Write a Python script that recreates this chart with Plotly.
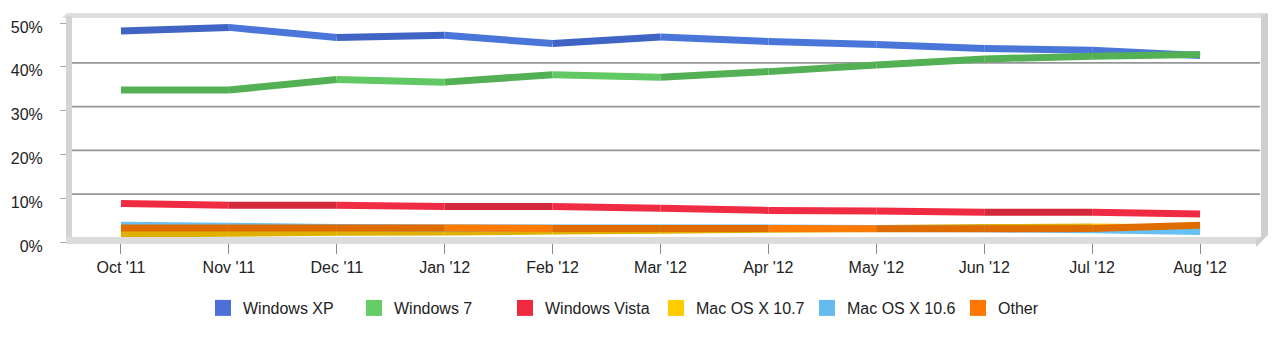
import plotly.graph_objects as go

months = ["Oct '11", "Nov '11", "Dec '11", "Jan '12", "Feb '12", "Mar '12",
          "Apr '12", "May '12", "Jun '12", "Jul '12", "Aug '12"]

windows_xp = [48.2, 49.0, 46.7, 47.2, 45.3, 46.8, 45.8, 45.1, 44.2, 43.8, 42.6]
windows_7 = [34.7, 34.7, 37.1, 36.5, 38.2, 37.6, 38.9, 40.4, 41.8, 42.4, 42.8]
windows_vista = [8.8, 8.4, 8.4, 8.1, 8.1, 7.7, 7.2, 7.1, 6.8, 6.8, 6.4]
mac_10_7 = [1.8, 2.0, 2.2, 2.3, 2.5, 2.7, 2.9, 3.1, 3.3, 3.4, 3.2]
mac_10_6 = [3.8, 3.6, 3.3, 3.2, 3.2, 3.2, 3.2, 3.1, 3.0, 2.8, 2.4]
other = [3.2, 3.2, 3.2, 3.2, 3.1, 3.1, 3.1, 3.0, 3.0, 3.1, 3.8]

series_names = ["Windows XP", "Windows 7", "Windows Vista", "Mac OS X 10.7", "Mac OS X 10.6", "Other"]
series_values = [windows_xp, windows_7, windows_vista, mac_10_7, mac_10_6, other]
legend_colors = ["#4c70d8", "#66cc66", "#ee2a40", "#ffcc00", "#66bbee", "#ff7700"]
light_colors = ["#4a76da", "#62c864", "#f02c44", "#ffc800", "#66c0f4", "#ff7a00"]
dark_colors = ["#4064c4", "#54b054", "#d22a3c", "#e0b000", "#58a8d8", "#e06c00"]

y_ticks = [0, 10, 20, 30, 40, 50]
y_tick_labels = ["0%", "10%", "20%", "30%", "40%", "50%"]
grid_vals = [10, 20, 30, 40]

W, H = 1280, 353
ML, MR, MT, MB = 67, 26, 23, 111
PW = W - ML - MR
PH = H - MT - MB


def px(x):
    return (x - ML) / PW


def py(y):
    return (H - MB - y) / PH


fig = go.Figure()

for name, vals, lc, dc in zip(series_names, series_values, light_colors, dark_colors):
    for i in range(len(months) - 1):
        col = dc if vals[i + 1] >= vals[i] else lc
        fig.add_trace(go.Scatter(
            x=[months[i], months[i + 1]], y=[vals[i], vals[i + 1]],
            mode="lines", line=dict(color=col, width=7),
            showlegend=False, hoverinfo="skip"))

for name, c in zip(series_names, legend_colors):
    fig.add_trace(go.Scatter(
        x=[None], y=[None], mode="markers", name=name,
        marker=dict(symbol="square", size=16, color=c)))

shapes = []
# back-wall grid lines (offset up for 3D look)
for g in grid_vals:
    shapes.append(dict(type="line", xref="paper", yref="y", ysizemode="pixel",
                       yanchor=g, y0=4, y1=4, x0=px(72), x1=px(1260),
                       line=dict(color="#969696", width=1.8), layer="below"))

frame_col = "#dcdcdc"
# top strip
shapes.append(dict(type="path", xref="paper", yref="paper",
                   path=f"M {px(62)} {py(18)} L {px(67)} {py(13)} L {px(1268)} {py(13)} L {px(1262)} {py(18)} Z",
                   fillcolor="#dedede", line=dict(width=0), layer="above"))
# left strip
shapes.append(dict(type="rect", xref="paper", yref="paper",
                   x0=px(66), x1=px(72), y0=py(244), y1=py(16),
                   fillcolor="#d4d4d4", line=dict(width=0), layer="above"))
# floor
shapes.append(dict(type="path", xref="paper", yref="paper",
                   path=f"M {px(66)} {py(237)} L {px(1262)} {py(237)} L {px(1256)} {py(244)} L {px(66)} {py(244)} Z",
                   fillcolor=frame_col, line=dict(width=0), layer="above"))
# right strip
shapes.append(dict(type="path", xref="paper", yref="paper",
                   path=f"M {px(1261)} {py(16)} L {px(1268)} {py(13)} L {px(1268)} {py(235)} L {px(1256)} {py(247)} L {px(1256)} {py(240)} L {px(1261)} {py(237)} Z",
                   fillcolor="#cfcfcf", line=dict(width=0), layer="above"))

fig.update_layout(
    width=W, height=H,
    margin=dict(l=ML, r=MR, t=MT, b=MB, autoexpand=False),
    paper_bgcolor="white", plot_bgcolor="white",
    font=dict(family="Liberation Sans, Arial, sans-serif", size=16, color="#222222"),
    shapes=shapes,
    showlegend=True,
    legend=dict(orientation="h", x=px(203), xanchor="left", y=py(308), yanchor="middle",
                entrywidth=106, entrywidthmode="pixels", itemsizing="trace",
                font=dict(size=16, color="#222222"), bgcolor="rgba(0,0,0,0)"),
)

fig.update_xaxes(type="category", categoryorder="array", categoryarray=months,
                 range=[-0.5, 10.5], showgrid=False, zeroline=False, showline=False,
                 ticks="outside", ticklen=11, tickcolor="#8a8a8a", tickwidth=1,
                 tickfont=dict(size=16, color="#222222"))
fig.update_yaxes(range=[0, 50], tickmode="array", tickvals=y_ticks, ticktext=y_tick_labels,
                 showgrid=False, zeroline=False, showline=False, ticks="outside", ticklen=6,
                 tickcolor="#aaaaaa", ticklabelshift=4, ticklabelstandoff=14,
                 tickfont=dict(size=16, color="#222222"))

fig.write_html("out.html")
